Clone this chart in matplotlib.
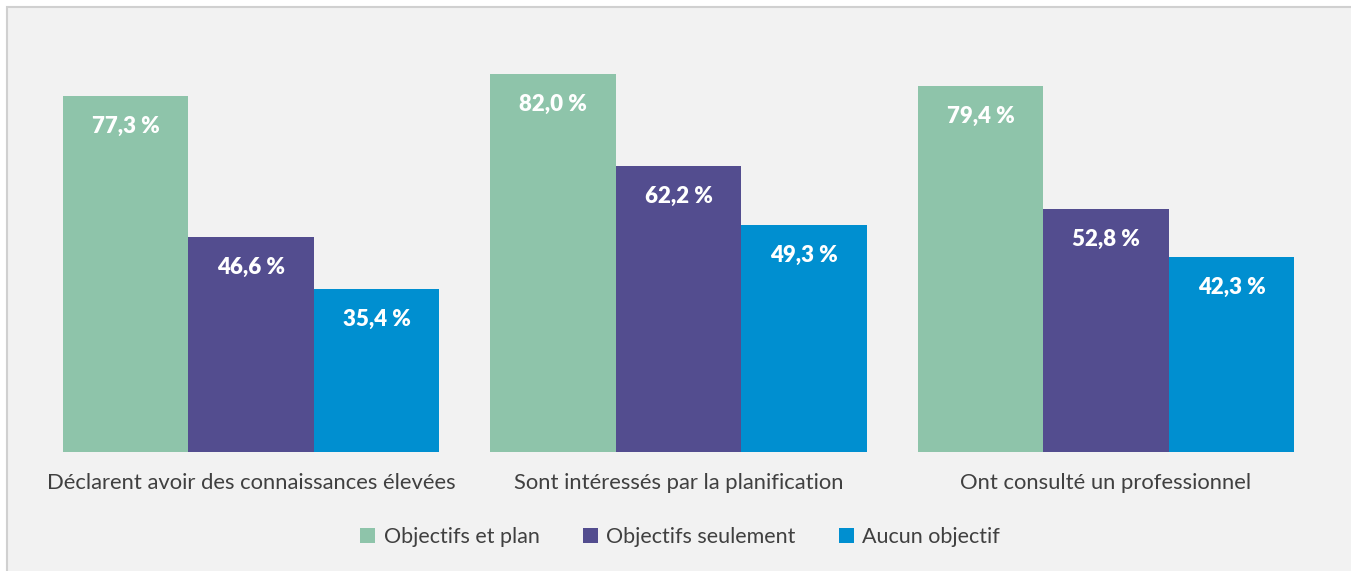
import matplotlib.pyplot as plt
import numpy as np
from matplotlib.patches import Rectangle

# Data
categories = ["Déclarent avoir des connaissances élevées",
              "Sont intéressés par la planification",
              "Ont consulté un professionnel"]
series_names = ["Objectifs et plan", "Objectifs seulement", "Aucun objectif"]
objectifs_et_plan = [77.3, 82.0, 79.4]
objectifs_seulement = [46.6, 62.2, 52.8]
aucun_objectif = [35.4, 49.3, 42.3]
colors = ["#8EC4AA", "#534D8F", "#008FD0"]

plt.rcParams['font.family'] = ['Lato', 'DejaVu Sans']

fig = plt.figure(figsize=(13.51, 5.71), dpi=100)
fig.patch.set_facecolor("white")

# grey panel with light border
panel = Rectangle((7 / 1351, -0.01), 1.01, (571 - 7) / 571 + 0.01,
                  transform=fig.transFigure, facecolor="#F2F2F2",
                  edgecolor="#D0D0D0", linewidth=1.5, zorder=-10)
fig.patches.append(panel)

ax = fig.add_axes([37.25 / 1351, (571 - 452) / 571,
                   (1319.75 - 37.25) / 1351, (452 - 37.5) / 571])
ax.set_facecolor("none")

x = np.arange(len(categories))
w = 125.5 / 427.5
all_series = [objectifs_et_plan, objectifs_seulement, aucun_objectif]

for i, (vals, name, col) in enumerate(zip(all_series, series_names, colors)):
    pos = x + (i - 1) * w
    ax.bar(pos, vals, width=w, color=col, label=name)
    for p, v in zip(pos, vals):
        ax.text(p, v - 6.6, f"{v:.1f} %".replace(".", ","), ha="center",
                va="center", color="white", fontsize=16, fontweight="heavy")

ax.set_xlim(-0.5, 2.5)
ax.set_ylim(0, 90)
ax.set_yticks([])
ax.set_xticks(x)
ax.set_xticklabels(categories, fontsize=15.8, color="#404040")
ax.tick_params(axis="x", length=0, pad=15)
for s in ax.spines.values():
    s.set_visible(False)

leg = fig.legend(loc="center", bbox_to_anchor=(680 / 1351, (571 - 537) / 571),
                 ncol=3, frameon=False, fontsize=15.5, handlelength=0.7,
                 handleheight=0.7, handletextpad=0.4, columnspacing=2.0,
                 labelcolor="#404040")

fig.savefig("out.png", dpi=100, facecolor=fig.get_facecolor())
